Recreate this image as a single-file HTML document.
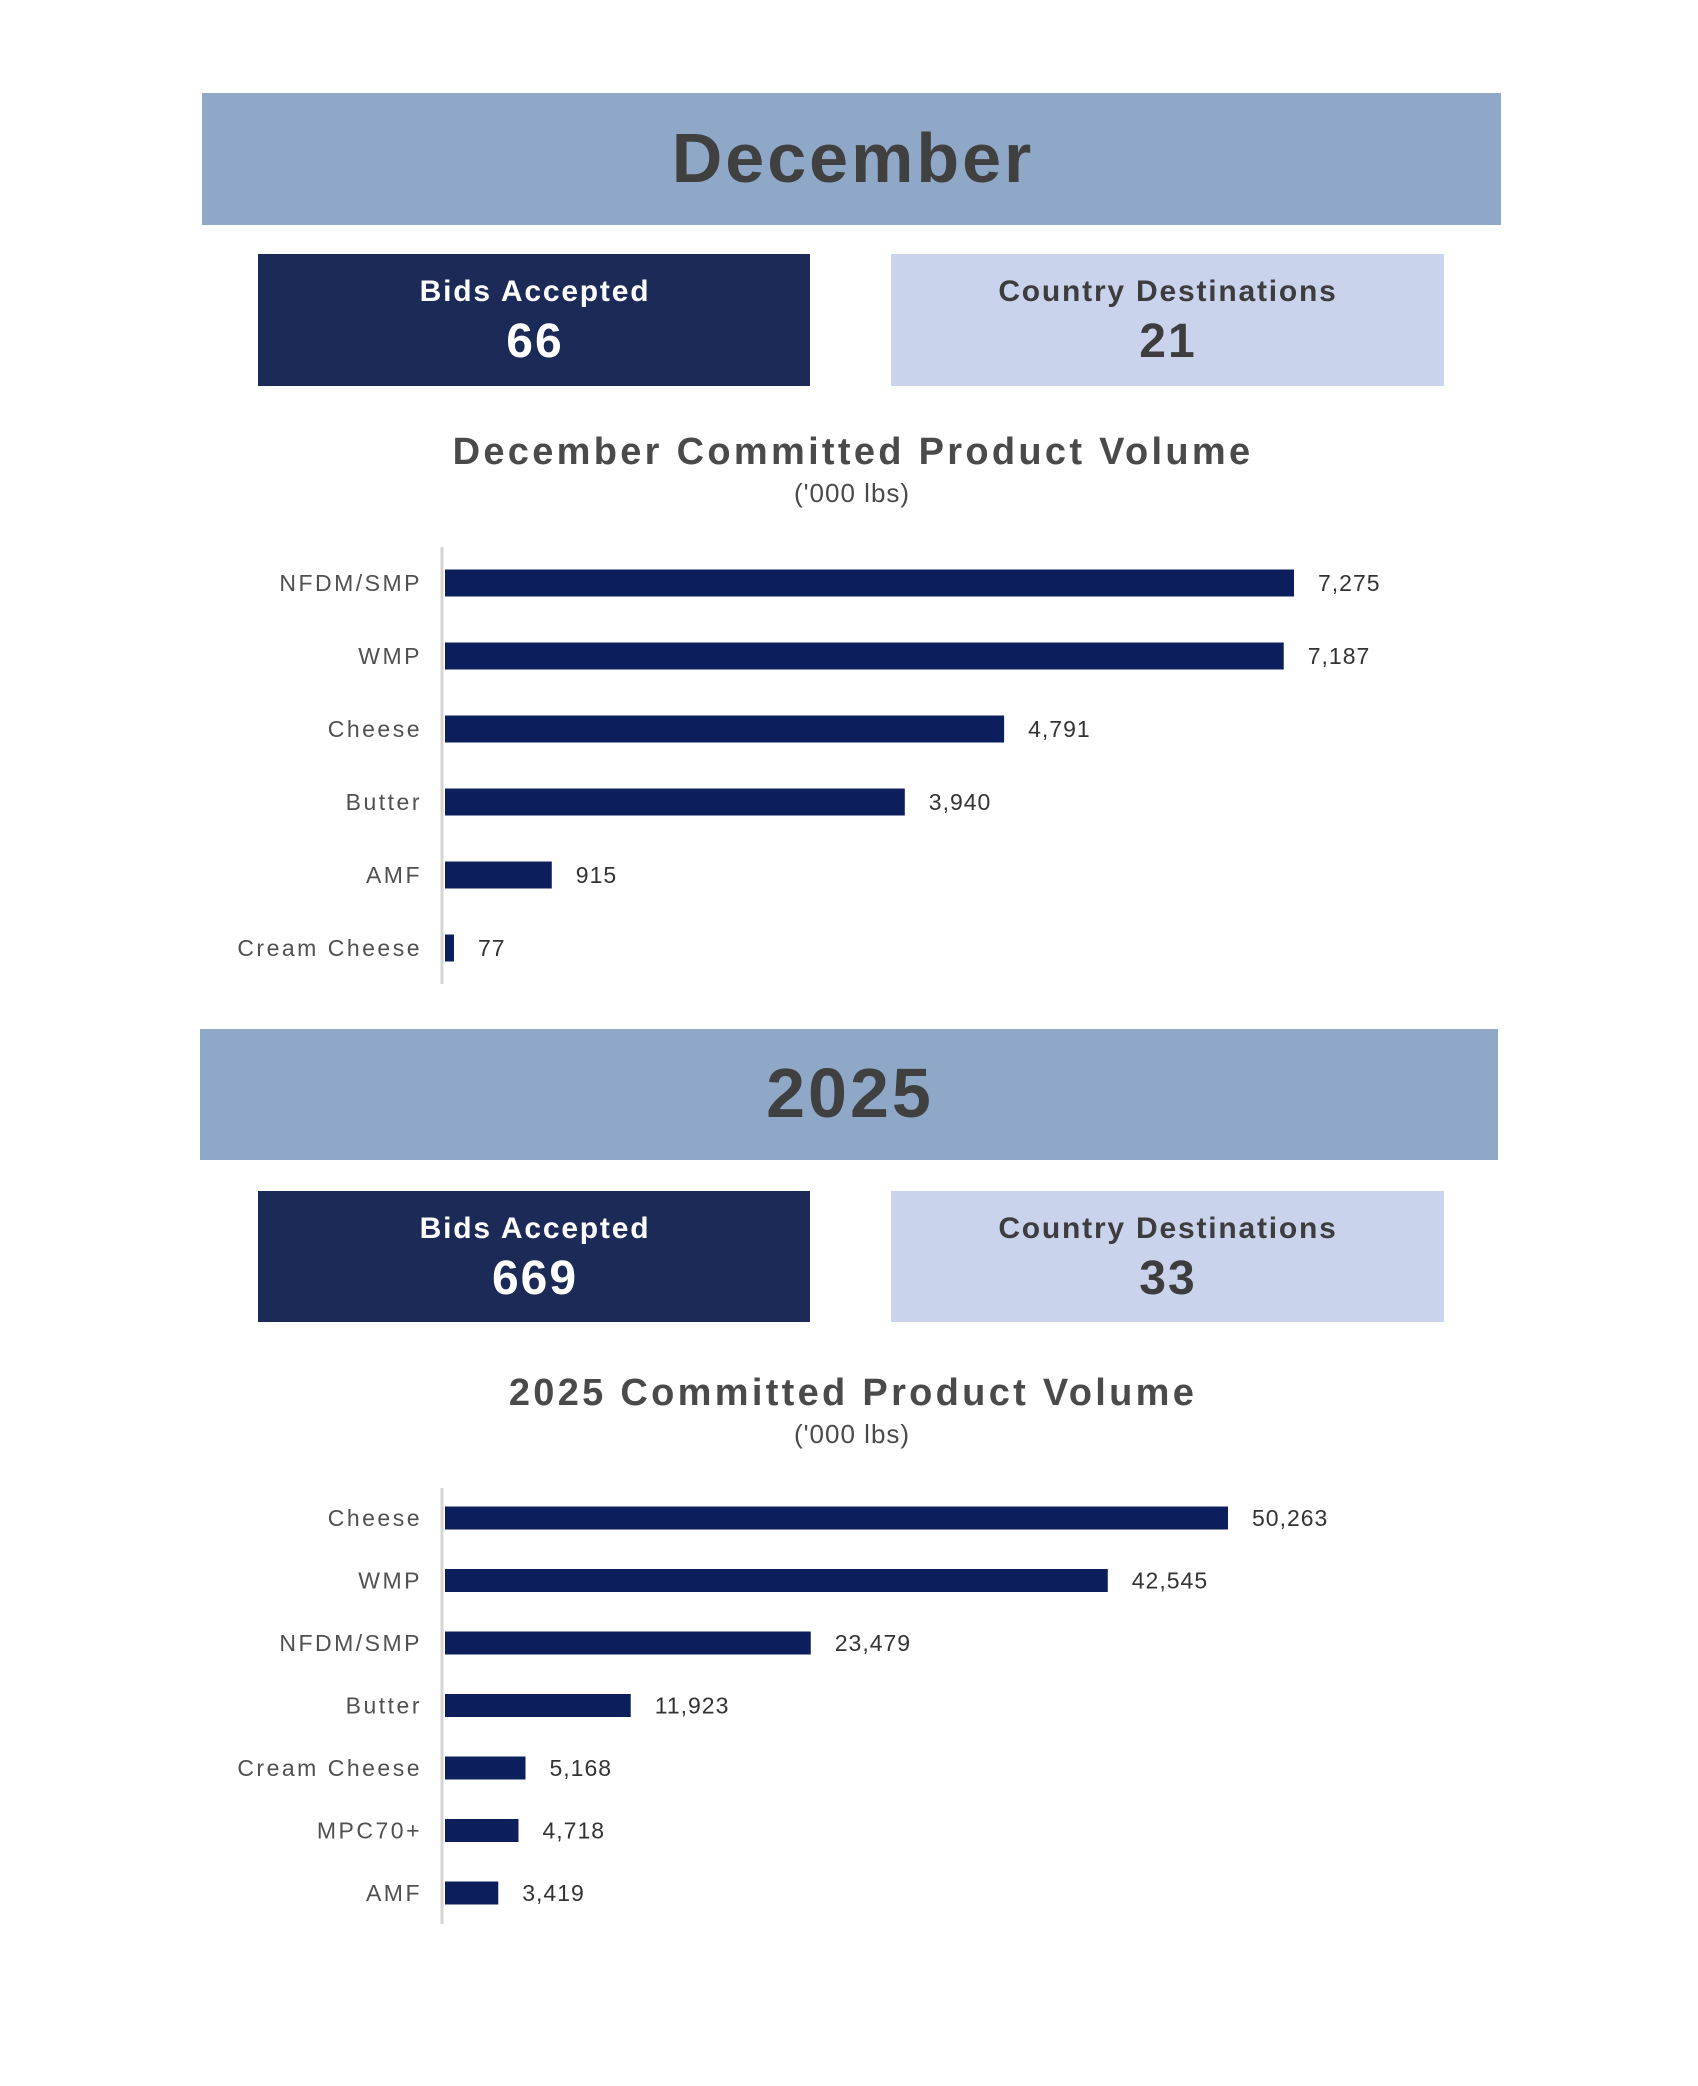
<!DOCTYPE html>
<html><head><meta charset="utf-8"><style>
html,body{margin:0;padding:0;background:#fff;}
body{width:1698px;height:2086px;position:relative;overflow:hidden;font-family:"Liberation Sans",sans-serif;}
svg{position:absolute;left:0;top:0;}
</style></head><body>
<svg width="1698" height="2086">
  <g>
    <rect x="202" y="93" width="1299" height="132" fill="#8fa8c8"/>
    <text x="853" y="182" text-anchor="middle" font-size="70" font-weight="bold" fill="#404040" letter-spacing="3">December</text>
    <rect x="258" y="254" width="552" height="132" fill="#1b2a57"/>
    <text x="535" y="301" text-anchor="middle" font-size="30" font-weight="bold" fill="#fff" letter-spacing="1.8">Bids Accepted</text>
    <text x="535" y="357" text-anchor="middle" font-size="48" font-weight="bold" fill="#fff" letter-spacing="2">66</text>
    <rect x="891" y="254" width="553" height="132" fill="#c9d3ec"/>
    <text x="1168" y="301" text-anchor="middle" font-size="30" font-weight="bold" fill="#3d3d3d" letter-spacing="1.8">Country Destinations</text>
    <text x="1168" y="357" text-anchor="middle" font-size="48" font-weight="bold" fill="#3d3d3d" letter-spacing="2">21</text>
    <text x="853" y="464" text-anchor="middle" font-size="38" font-weight="bold" fill="#4a4a4a" letter-spacing="3.3">December Committed Product Volume</text>
    <text x="852" y="502" text-anchor="middle" font-size="26" fill="#4a4a4a" letter-spacing="1">('000 lbs)</text>
    <line x1="442" y1="547" x2="442" y2="984" stroke="#d4d4d4" stroke-width="3"/>
    <g id="chart1"></g>
  </g>
  <g>
    <rect x="200" y="1029" width="1298" height="131" fill="#8fa8c8"/>
    <text x="850" y="1117" text-anchor="middle" font-size="70" font-weight="bold" fill="#404040" letter-spacing="3">2025</text>
    <rect x="258" y="1191" width="552" height="131" fill="#1b2a57"/>
    <text x="535" y="1238" text-anchor="middle" font-size="30" font-weight="bold" fill="#fff" letter-spacing="1.8">Bids Accepted</text>
    <text x="535" y="1294" text-anchor="middle" font-size="48" font-weight="bold" fill="#fff" letter-spacing="2">669</text>
    <rect x="891" y="1191" width="553" height="131" fill="#c9d3ec"/>
    <text x="1168" y="1238" text-anchor="middle" font-size="30" font-weight="bold" fill="#3d3d3d" letter-spacing="1.8">Country Destinations</text>
    <text x="1168" y="1294" text-anchor="middle" font-size="48" font-weight="bold" fill="#3d3d3d" letter-spacing="2">33</text>
    <text x="853" y="1405" text-anchor="middle" font-size="38" font-weight="bold" fill="#4a4a4a" letter-spacing="3.3">2025 Committed Product Volume</text>
    <text x="852" y="1443" text-anchor="middle" font-size="26" fill="#4a4a4a" letter-spacing="1">('000 lbs)</text>
    <line x1="442" y1="1488" x2="442" y2="1924" stroke="#d4d4d4" stroke-width="3"/>
    <g id="chart2"></g>
  </g>
</svg>
<script>
const decCategories = ["NFDM/SMP","WMP","Cheese","Butter","AMF","Cream Cheese"];
const decValues = [7275,7187,4791,3940,915,77];
const yearCategories = ["Cheese","WMP","NFDM/SMP","Butter","Cream Cheese","MPC70+","AMF"];
const yearValues = [50263,42545,23479,11923,5168,4718,3419];

const NS = "http://www.w3.org/2000/svg";
function fmt(v){return v.toLocaleString("en-US");}
function drawChart(gid, cats, vals, cfg){
  const g = document.getElementById(gid);
  const x = v => cfg.x0 + v * cfg.pxPerUnit;
  const y = i => cfg.y0 + i * cfg.step;
  cats.forEach((c,i)=>{
    const cy = y(i);
    const lab = document.createElementNS(NS,"text");
    lab.setAttribute("x",422); lab.setAttribute("y",cy+8);
    lab.setAttribute("text-anchor","end"); lab.setAttribute("font-size","23");
    lab.setAttribute("fill","#505050"); lab.setAttribute("letter-spacing","2.5");
    lab.textContent = c;
    
    
    g.appendChild(lab);
    const r = document.createElementNS(NS,"rect");
    r.setAttribute("x",cfg.x0); r.setAttribute("y",cy-cfg.h/2);
    r.setAttribute("width",Math.max(0,x(vals[i])-cfg.x0)); r.setAttribute("height",cfg.h);
    r.setAttribute("fill","#0c1f5c");
    
    
    g.appendChild(r);
    const t = document.createElementNS(NS,"text");
    t.setAttribute("x",x(vals[i])+24); t.setAttribute("y",cy+8);
    t.setAttribute("font-size","23"); t.setAttribute("fill","#333");
    t.setAttribute("letter-spacing","1");
    t.textContent = fmt(vals[i]);
    
    
    g.appendChild(t);
  });
}
drawChart("chart1", decCategories, decValues, {x0:445, pxPerUnit:849/7275, y0:583, step:73, h:27});
drawChart("chart2", yearCategories, yearValues, {x0:445, pxPerUnit:783/50263, y0:1518, step:62.5, h:23});
</script>
</body></html>
